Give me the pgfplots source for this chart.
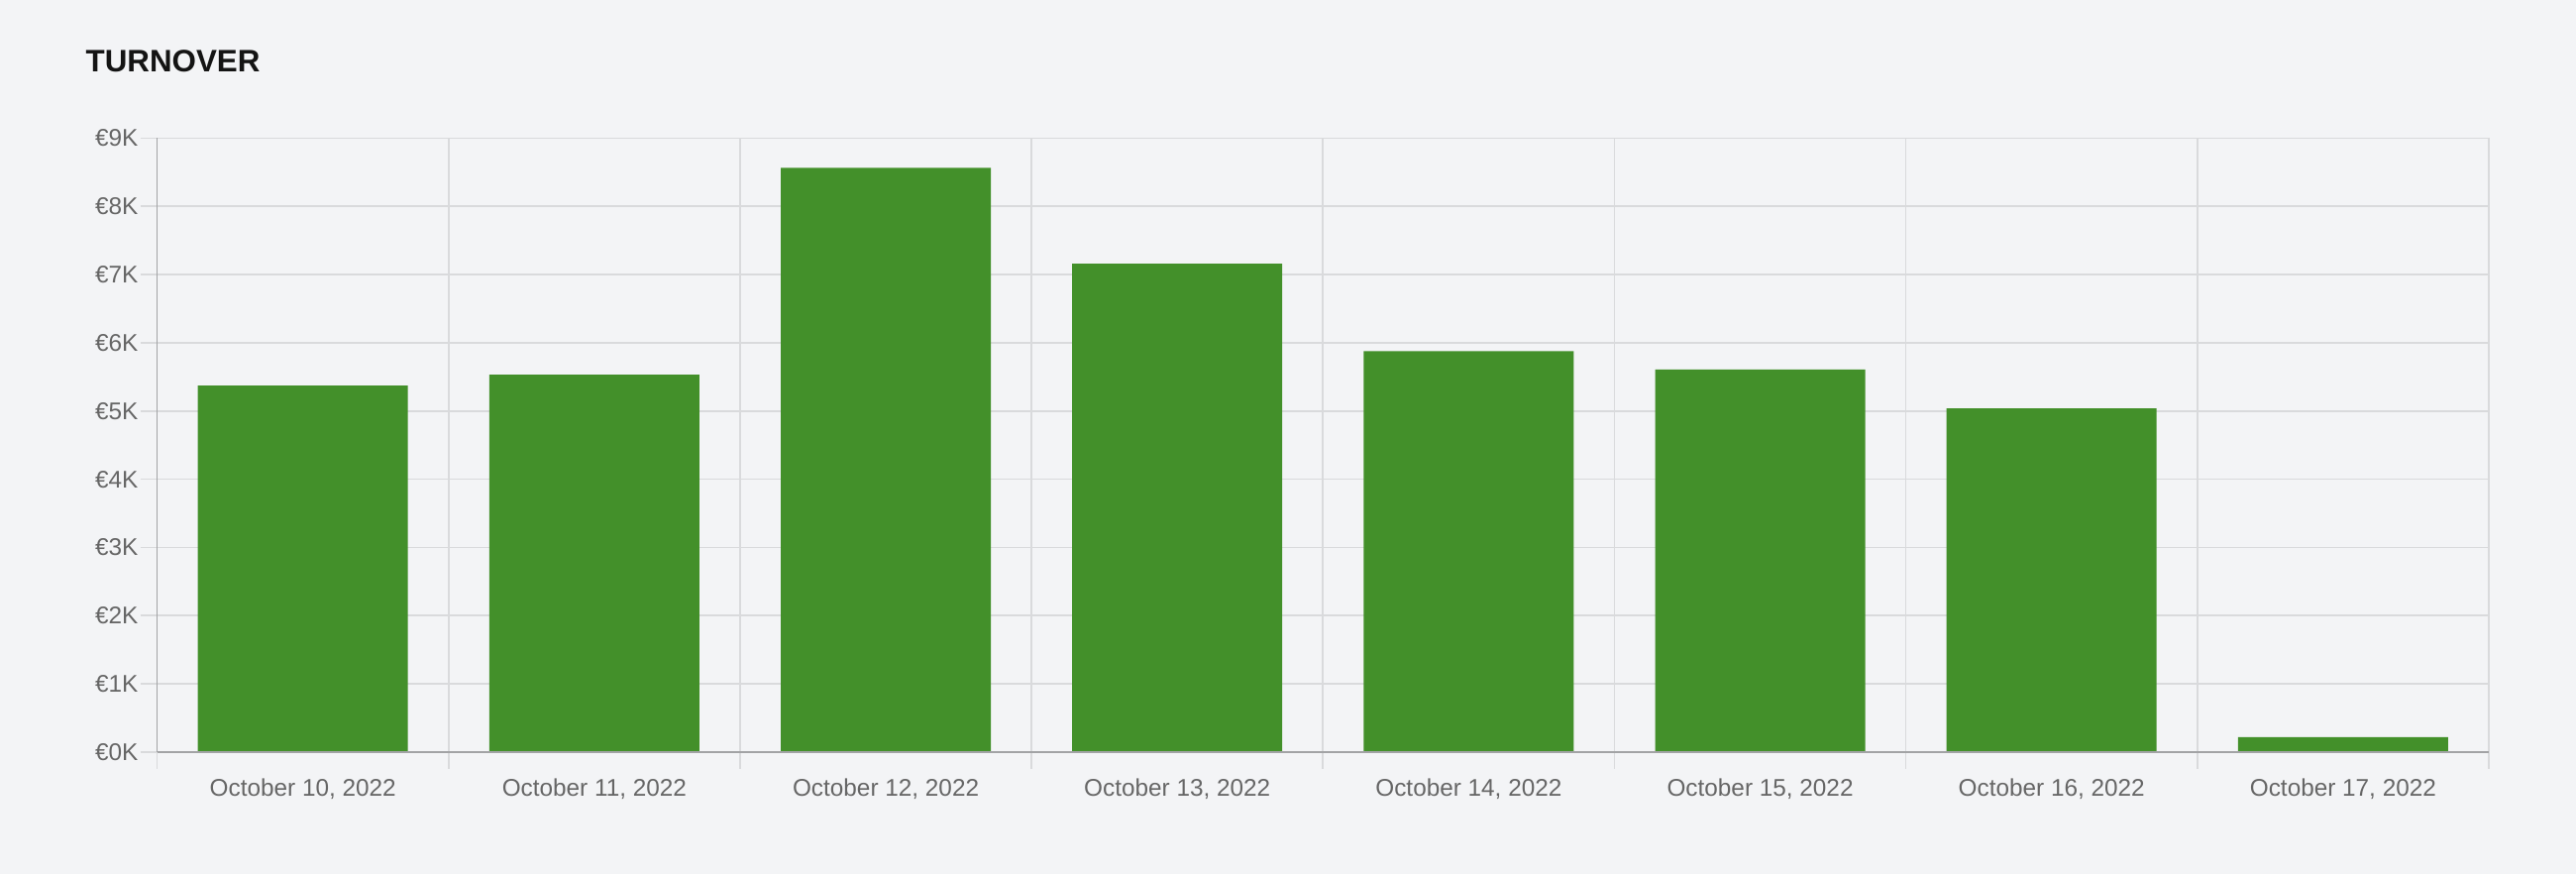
\documentclass[border=0pt]{standalone}
\usepackage{pgfplots}
\pgfplotsset{compat=1.18}
\usepackage{fontspec}
\setmainfont{Liberation Sans}

\definecolor{bgc}{HTML}{F3F4F6}
\definecolor{barc}{HTML}{43902A}
\definecolor{gridc}{HTML}{D9DADC}
\definecolor{axisc}{HTML}{A2A3A5}
\definecolor{tickc}{HTML}{666666}

% daily turnover in euro
\pgfplotstableread{
idx value
0 5375
1 5535
2 8565
3 7160
4 5880
5 5610
6 5040
7 220
}\turnover

\begin{document}
\begin{tikzpicture}
\fill[bgc] (0,0) rectangle (780pt,264.6pt);
\node[anchor=base west, inner sep=0pt, font=\fontsize{9.4}{11}\selectfont\bfseries, text=black!92]
  at (25.8pt,242.7pt) {TURNOVER};
\begin{axis}[
  at={(47.6pt,36.9pt)}, anchor=south west,
  scale only axis, width=706.0pt, height=185.85pt,
  xmin=-0.5, xmax=7.5, ymin=0, ymax=9000,
  axis x line=bottom, axis y line=left,
  axis line style={draw=axisc, line width=0.5pt, -},
  tick align=outside,
  major tick length=5pt,
  % category boundaries: grid lines and short ticks below the axis
  xtick={-0.5,0.5,...,7.5},
  xticklabels={},
  xmajorgrids=true,
  % category names at the centres
  extra x ticks={0,1,2,3,4,5,6,7},
  extra x tick labels={{October 10, 2022},{October 11, 2022},{October 12, 2022},{October 13, 2022},{October 14, 2022},{October 15, 2022},{October 16, 2022},{October 17, 2022}},
  extra x tick style={grid=none, major tick length=0pt,
    tick label style={yshift=-4.6pt}},
  ytick={0,1000,...,9000},
  yticklabels={€0K,€1K,€2K,€3K,€4K,€5K,€6K,€7K,€8K,€9K},
  ymajorgrids=true,
  grid style={draw=gridc, line width=0.5pt},
  tick style={draw=gridc, line width=0.5pt},
  tick label style={font=\fontsize{7.3}{8.5}\selectfont, text=tickc},
  yticklabel style={inner sep=0.6pt},
  ybar, bar width=63.6pt,
  clip=false,
]
\addplot[draw=none, fill=barc] table[x=idx, y=value] {\turnover};
\draw[axisc, line width=0.5pt] (axis cs:-0.5,0) -- (axis cs:7.5,0);
\end{axis}
\pgfresetboundingbox
\path (0,0) rectangle (780pt,264.6pt);
\end{tikzpicture}
\end{document}
